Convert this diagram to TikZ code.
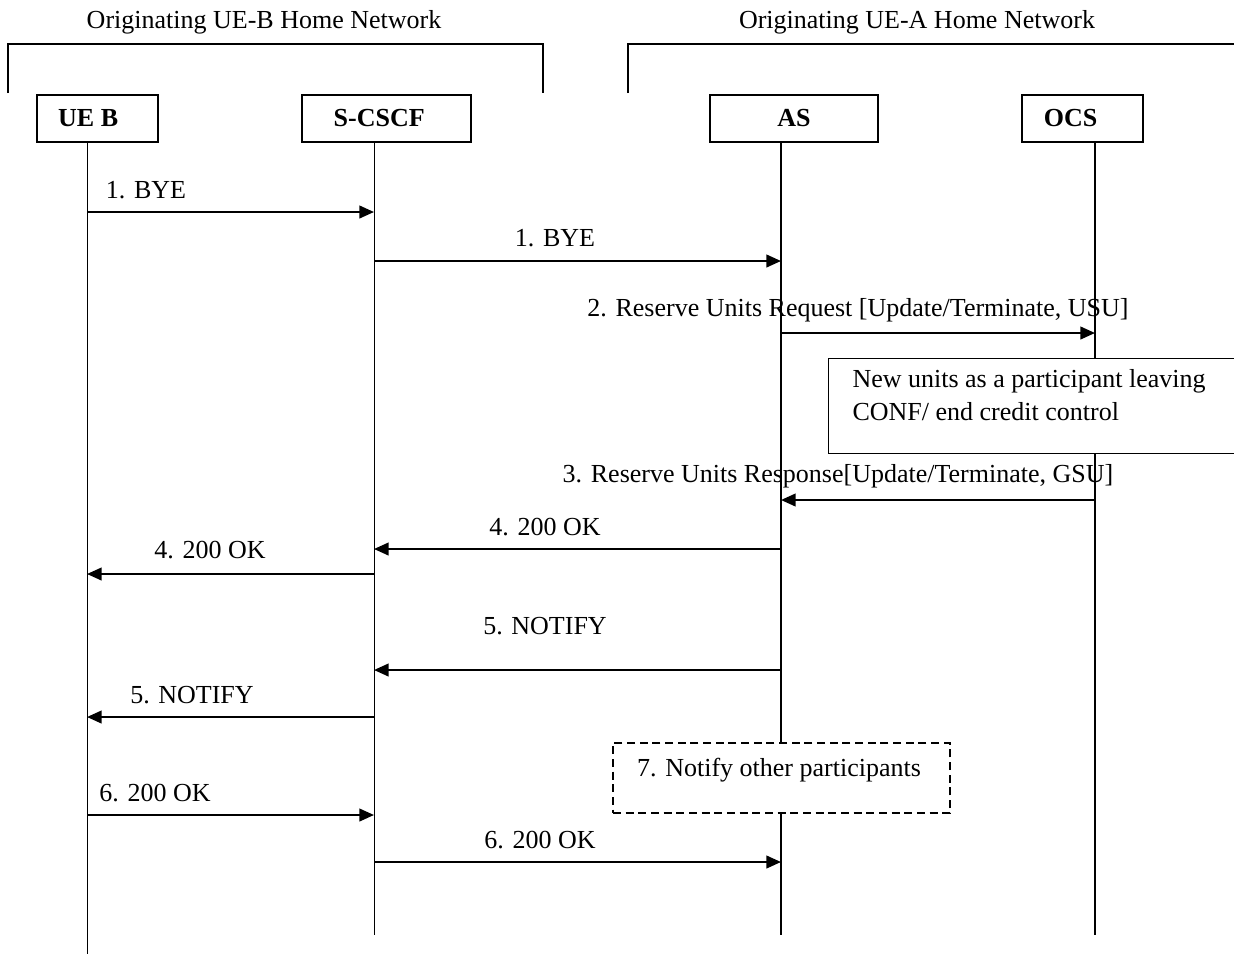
\documentclass[tikz,border=0pt]{standalone}
\usepackage{fontspec}
\setmainfont{Liberation Serif}
\usetikzlibrary{arrows.meta}

\begin{document}
\begin{tikzpicture}[x=0.75pt,y=-0.75pt,line width=0.8pt,
  font=\fontsize{19.5}{24.75}\selectfont,
  entity/.style={draw,line width=1.4pt,minimum height=35.25pt,inner sep=0pt,font=\fontsize{19.5}{24}\selectfont\bfseries},
  msg/.style={-{Triangle[length=11pt,width=9.5pt]},line width=1.6pt},
  life/.style={line width=0.75pt}]
\useasboundingbox (0,0) rectangle (1234,954);
% 消息箭头，#1 = 名称，#2/#3 = 起止 x，#4 = y，#5/#6 = 标签位置，#7 = 文字
\newcommand{\msgarrow}[7]{
  \coordinate (#1-s) at (#2,#4);
  \coordinate (#1-e) at (#3,#4);
  \draw[msg] (#1-s) -- (#1-e);
  \node (#1-t) at (#5,#6) {#7};
}
% ---------- 归属网络 ----------
\node (homeB) at (264,22) {Originating UE-B Home Network};
\node (homeA) at (917,22) {Originating UE-A Home Network};
\draw[line width=1.1pt] (8,93) -- (8,44) -- (543,44) -- (543,93);
\draw[line width=1.1pt] (628,93) -- (628,44) -- (1240,44);
% ---------- 实体与生命线（文字略偏左） ----------
\node[entity,minimum width=90.75pt]  (ueb)   at (97.5,118.5)  {UE B\hspace*{14pt}};
\node[entity,minimum width=126.75pt] (scscf) at (386.5,118.5) {S-CSCF\hspace*{11pt}};
\node[entity,minimum width=126pt]    (as)    at (794,118.5)   {AS};
\node[entity,minimum width=90.75pt]  (ocs)   at (1082.5,118.5) {OCS\hspace*{18pt}};
\coordinate (ueb-end)   at (87,954);
\coordinate (scscf-end) at (374,935);
\coordinate (as-end)    at (781,935);
\coordinate (ocs-end)   at (1095,935);
\foreach \e in {ueb,scscf}{
  \draw[life] (\e.south -| \e-end) -- (\e-end);
}
\foreach \e in {as,ocs}{
  \draw[life,line width=1pt] (\e.south -| \e-end) -- (\e-end);
}
% ---------- 消息 ----------
\msgarrow{m1}{87}{374}{212}{146}{190}{1. BYE}
\msgarrow{m2}{374}{781}{261}{555}{238}{1. BYE}
\msgarrow{m3}{781}{1095}{333}{858}{310}{2. Reserve Units Request [Update/Terminate, USU]}
% OCS 说明框
\node[draw,fill=white,line width=1pt,anchor=north west,minimum width=306pt,
  minimum height=71.25pt] (units) at (828,358) {};
\node[anchor=north west,align=left,inner sep=0pt] (units-t) at (852,369)
  {New units as a participant leaving\\CONF/ end credit control};
\msgarrow{m4}{1095}{781}{500}{838}{476}{3. Reserve Units Response[Update/Terminate, GSU]}
\msgarrow{m5}{781}{374}{549}{545}{527}{4. 200 OK}
\msgarrow{m6}{374}{87}{574}{210}{550}{4. 200 OK}
\msgarrow{m7}{781}{374}{670}{545}{626}{5. NOTIFY}
\msgarrow{m8}{374}{87}{717}{192}{695}{5. NOTIFY}
% 虚线框
\node[draw,fill=white,dash pattern=on 6pt off 3.5pt,line width=1pt,
  minimum width=252.75pt,minimum height=52.5pt] (notify) at (781.5,778) {};
\node (notify-t) at (779,770) {7. Notify other participants};
\msgarrow{m9}{87}{374}{815}{155}{793}{6. 200 OK}
\msgarrow{m10}{374}{781}{862}{540}{840}{6. 200 OK}
\end{tikzpicture}
\end{document}
